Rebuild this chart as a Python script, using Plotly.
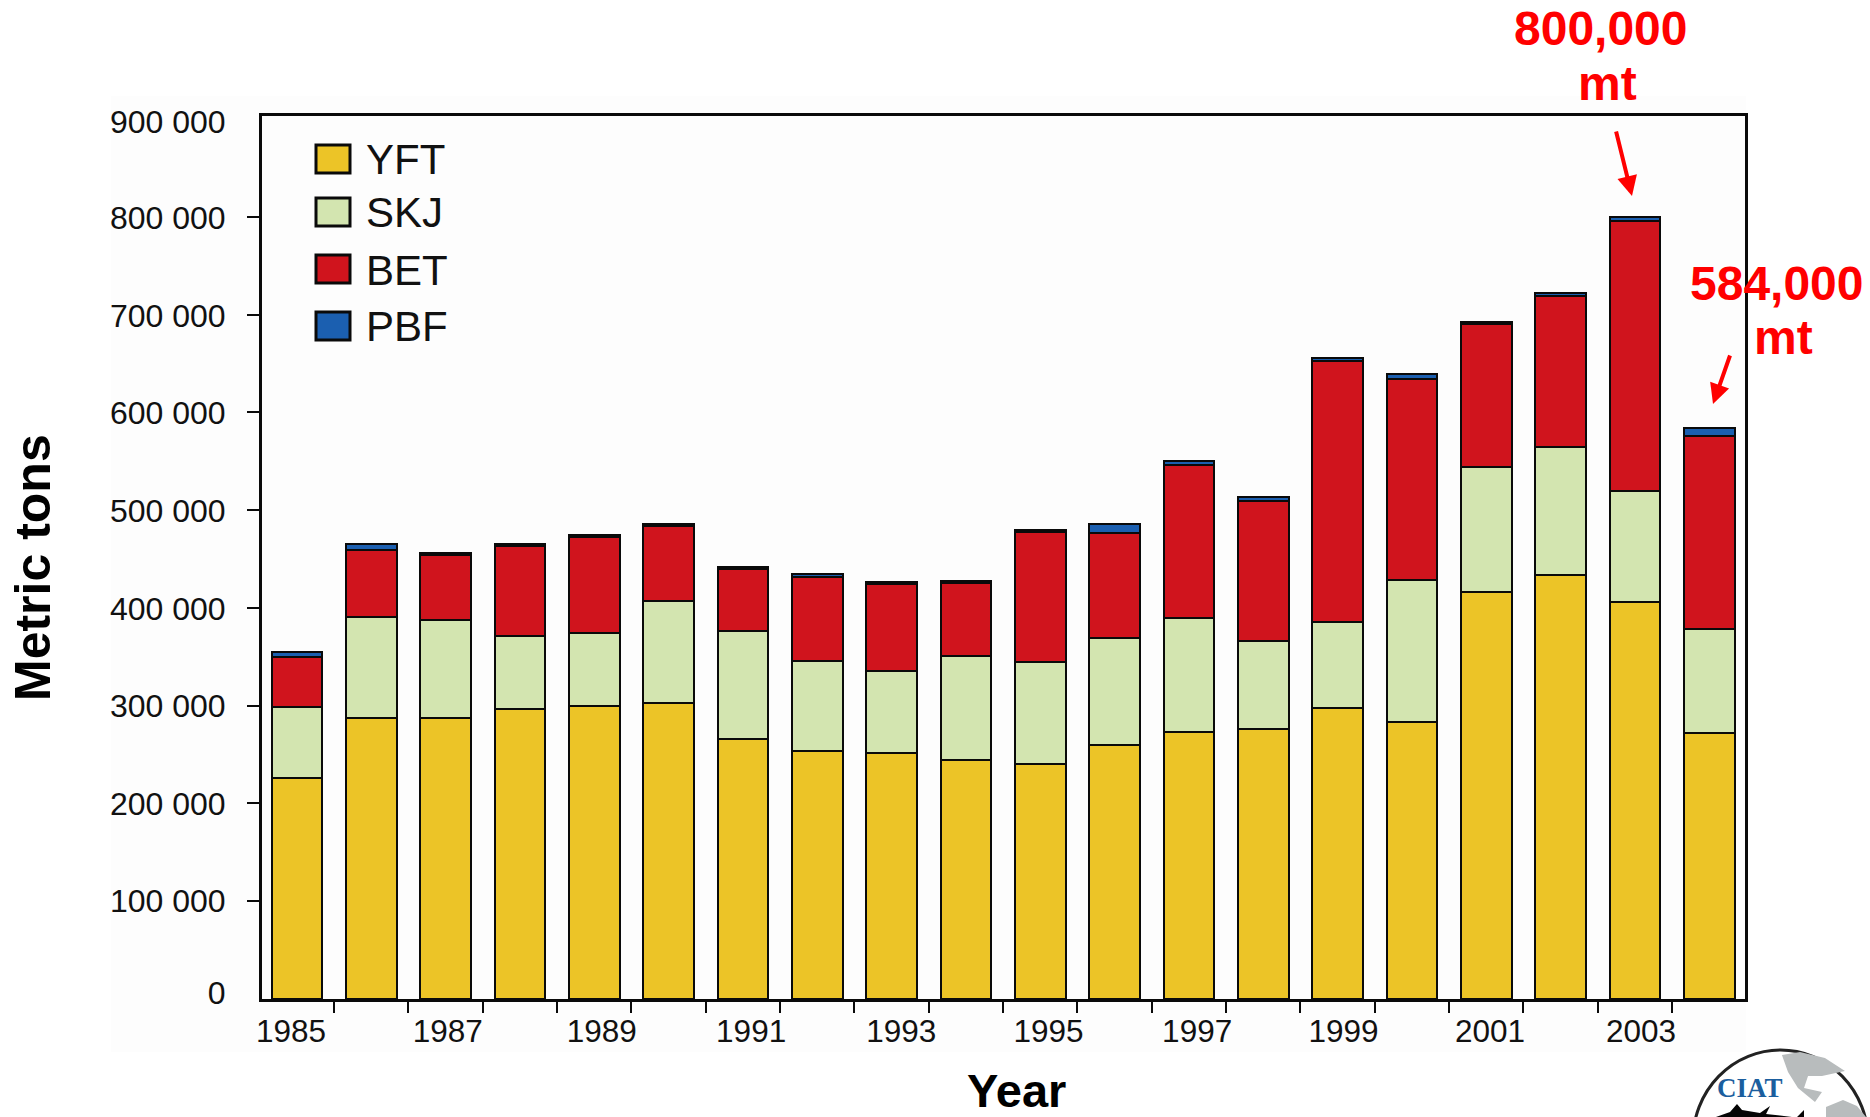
import plotly.graph_objects as go

years = list(range(1985, 2005))
yft = [226000, 287000, 287000, 297000, 300000, 303000, 266000, 254000, 252000, 244000,
       240000, 260000, 273000, 276000, 298000, 283000, 416000, 434000, 406000, 272000]
yft_skj = [299000, 391000, 388000, 371000, 374000, 407000, 376000, 346000, 335000, 351000,
           345000, 369000, 390000, 366000, 386000, 428000, 544000, 564000, 520000, 378000]
yft_skj_bet = [350000, 459000, 454000, 463000, 472000, 484000, 440000, 432000, 424000, 425000,
               478000, 477000, 546000, 509000, 652000, 634000, 690000, 719000, 796000, 576000]
totals = [355000, 465000, 456000, 465000, 475000, 486000, 442000, 435000, 426000, 427000,
          480000, 486000, 550000, 513000, 656000, 639000, 692000, 722000, 800000, 584000]
skj = [a - b for a, b in zip(yft_skj, yft)]
bet = [a - b for a, b in zip(yft_skj_bet, yft_skj)]
pbf = [a - b for a, b in zip(totals, yft_skj_bet)]

series_names = ["YFT", "SKJ", "BET", "PBF"]
series_values = [yft, skj, bet, pbf]
series_colors = ["#ECC427", "#D3E5B0", "#D0141D", "#1B5FB0"]

y_ticks = [100000, 200000, 300000, 400000, 500000, 600000, 700000, 800000]
y_label_pos = [6000, 100000, 200000, 300000, 399000, 499000, 599000, 699000, 799000, 897000]
y_labels = ["0", "100 000", "200 000", "300 000", "400 000", "500 000", "600 000",
            "700 000", "800 000", "900 000"]
x_labels = ["1985", "1987", "1989", "1991", "1993", "1995", "1997", "1999", "2001", "2003"]
x_label_pos = [1984.92, 1987.03, 1989.1, 1991.11, 1993.13, 1995.11, 1997.11, 1999.08, 2001.05, 2003.08]

W, H = 1870, 1117
L, R, T, B = 262, 1745, 116, 999
FONT = "Liberation Sans"


def paper_x(x):
    return (x - L) / (R - L)


def paper_y(y):
    return (B - y) / (B - T)


def poly(points):
    parts = [f"{'M' if i == 0 else 'L'}{paper_x(x):.4f},{paper_y(y):.4f}" for i, (x, y) in enumerate(points)]
    return " ".join(parts) + " Z"


fig = go.Figure()
for name, vals, col in zip(series_names, series_values, series_colors):
    fig.add_trace(go.Bar(x=years, y=vals, name=name, width=0.68,
                         marker=dict(color=col, line=dict(color="#0a0a0a", width=2))))

shapes = [
    dict(type="rect", xref="paper", yref="paper", layer="below",
         x0=paper_x(111), x1=paper_x(1746), y0=paper_y(1052), y1=paper_y(96),
         fillcolor="#FDFDFD", line=dict(width=0)),
]

# legend swatches
legend_rows = [159, 212, 269, 326]
for yc, col in zip(legend_rows, series_colors):
    shapes.append(dict(type="rect", xref="paper", yref="paper",
                       x0=paper_x(316), x1=paper_x(350), y0=paper_y(yc - 14), y1=paper_y(yc + 14),
                       fillcolor=col, line=dict(color="#0a0a0a", width=3)))

# logo: globe, land masses and the fish
north_america = [(1782, 1055), (1800, 1052), (1825, 1058), (1845, 1071), (1822, 1076), (1808, 1076),
                 (1804, 1088), (1822, 1092), (1815, 1102), (1798, 1088), (1788, 1072)]
south_america = [(1826, 1117), (1826, 1107), (1843, 1100), (1857, 1106), (1866, 1117)]
fish = [(1716, 1117), (1730, 1112), (1737, 1104), (1742, 1110), (1760, 1113), (1770, 1106),
        (1766, 1114), (1792, 1117)]
fin = [(1797, 1117), (1804, 1110), (1804, 1117)]
shapes.append(dict(type="circle", xref="paper", yref="paper", x0=paper_x(1693), x1=paper_x(1868),
                   y0=paper_y(1050), y1=paper_y(1230), fillcolor="#FFFFFF",
                   line=dict(color="#222222", width=3)))
for pts, col in [(north_america, "#B8BCBD"), (south_america, "#B8BCBD"), (fish, "#050505"), (fin, "#050505")]:
    shapes.append(dict(type="path", xref="paper", yref="paper", path=poly(pts),
                       fillcolor=col, line=dict(width=0)))

annotations = []


def text(x, y, s, size, color="#111111", bold=False, angle=0, family=FONT, xanchor="center"):
    annotations.append(dict(
        xref="paper", yref="paper", x=paper_x(x), y=paper_y(y), text=f"<b>{s}</b>" if bold else s,
        showarrow=False, xanchor=xanchor, yanchor="middle", textangle=angle,
        font=dict(family=family, size=size, color=color)))


for yc, name in zip([159, 213, 270, 326], series_names):
    text(364, yc, name, 42, xanchor="left")

text(1601, 29, "800,000", 48, "#FF0000", True)
text(1607, 83, "mt", 48, "#FF0000", True)
text(1777, 283, "584,000", 48, "#FF0000", True)
text(1783, 337, "mt", 48, "#FF0000", True)
text(1016, 1090, "Year", 47, "#000000", True)
text(33, 568, "Metric tons", 50, "#000000", True, angle=-90)
text(1750, 1088, "CIAT", 27, "#1B5E9E", True, family="Liberation Serif")

for x0, y0, x1, y1 in [(1614, 123, 1632, 196), (1733, 347, 1713, 404)]:
    annotations.append(dict(
        xref="paper", yref="paper", x=paper_x(x1), y=paper_y(y1),
        axref="pixel", ayref="pixel", ax=x0 - x1, ay=y0 - y1, text=" ",
        showarrow=True, arrowhead=2, arrowsize=1, arrowwidth=4, arrowcolor="#FF0000",
        standoff=0, startstandoff=0))

fig.update_layout(
    width=W, height=H, autosize=False, barmode="stack", showlegend=False,
    margin=dict(l=L, r=W - R, t=T, b=H - B, pad=0),
    paper_bgcolor="#FFFFFF", plot_bgcolor="#FDFDFD",
    font=dict(family=FONT, color="#111111"),
    shapes=shapes, annotations=annotations,
    xaxis=dict(range=[1984.53, 2004.48], tickmode="array", tickvals=x_label_pos, ticktext=x_labels,
               ticks="", ticklabelstandoff=2, tickfont=dict(size=31.5, family=FONT, color="#111111"),
               showgrid=False, zeroline=False, showline=True, mirror=True,
               linecolor="#0a0a0a", linewidth=3,
               minor=dict(tickmode="array", tickvals=[y + 0.5 for y in years[:-1]], ticks="outside",
                          ticklen=11, tickwidth=2, tickcolor="#0a0a0a", showgrid=False)),
    yaxis=dict(range=[0, 903000], tickmode="array", tickvals=y_label_pos, ticktext=y_labels,
               ticks="", ticklabelstandoff=27, tickfont=dict(size=32, family=FONT, color="#111111"),
               showgrid=False, zeroline=False, showline=True, mirror=True,
               linecolor="#0a0a0a", linewidth=3,
               minor=dict(tickmode="array", tickvals=y_ticks, ticks="outside",
                          ticklen=12, tickwidth=2, tickcolor="#0a0a0a", showgrid=False)),
)

fig.write_html("out.html", config=dict(displayModeBar=False),
               post_script="document.body.style.margin='0';")
